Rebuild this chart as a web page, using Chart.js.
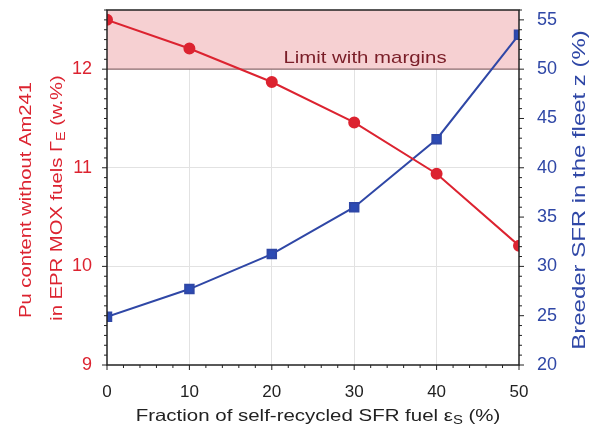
<!DOCTYPE html>
<html>
<head>
<meta charset="utf-8">
<script src="https://cdn.jsdelivr.net/npm/chart.js@4/dist/chart.umd.min.js"></script>
<style>
  html, body { margin: 0; padding: 0; background: #fff; }
  #wrap { width: 595px; height: 430px; }
</style>
</head>
<body>
<div id="wrap"><canvas id="chart" width="595" height="430"></canvas></div>
<script>
// data
const recycledFraction = [0, 10, 20, 30, 40, 50];
const puContent = [12.50, 12.21, 11.87, 11.46, 10.94, 10.21];
const breederShare = [24.9, 27.7, 31.25, 36.0, 42.9, 53.5];

const xTicks = [0, 10, 20, 30, 40, 50];
const leftTicks = [9, 10, 11, 12];
const rightTicks = [20, 25, 30, 35, 40, 45, 50, 55];
const limitValue = 12;
const limitLabel = 'Limit with margins';

const RED = '#dc2330';
const BLUE = '#2f47a6';
const FONT = '"Liberation Sans", Arial, sans-serif';

// draws text pieces (some as subscripts) centred on (0,0), stretched along the text
function drawRich(ctx, parts, size, stretch) {
    const measure = p => {
        ctx.font = (p.sub ? Math.round(size * 0.7) : size) + 'px ' + FONT;
        return ctx.measureText(p.t).width;
    };
    const total = parts.reduce((s, p) => s + measure(p), 0);
    ctx.save();
    ctx.scale(stretch || 1, 1);
    let x = -total / 2;
    parts.forEach(p => {
        const w = measure(p);
        ctx.fillText(p.t, x, p.sub ? size * 0.3 : 0);
        x += w;
    });
    ctx.restore();
}

// pink "limit" band above 12 %
const bandPlugin = {
    id: 'band',
    beforeDatasetsDraw(chart) {
        const { ctx, chartArea: a, scales } = chart;
        const y12 = scales.y.getPixelForValue(limitValue);
        ctx.save();
        ctx.fillStyle = '#f6d0d2';
        ctx.fillRect(a.left, a.top, a.right - a.left, y12 - a.top);
        ctx.strokeStyle = '#8a6a6c';
        ctx.lineWidth = 1.2;
        ctx.beginPath();
        ctx.moveTo(a.left, y12);
        ctx.lineTo(a.right, y12);
        ctx.stroke();
        ctx.fillStyle = '#7a1e28';
        ctx.textBaseline = 'middle';
        ctx.translate(365, y12 - 11);
        drawRich(ctx, [{ t: limitLabel }], 17, 1.2);
        ctx.restore();
    }
};

// frame, minor ticks and axis titles
const decorPlugin = {
    id: 'decor',
    afterDraw(chart) {
        const { ctx, chartArea: a, scales } = chart;
        ctx.save();
        ctx.strokeStyle = '#222';
        ctx.lineWidth = 1.5;
        ctx.strokeRect(a.left, a.top, a.right - a.left, a.bottom - a.top);

        ctx.lineWidth = 1;
        ctx.beginPath();
        // x ticks, minor every 2
        for (let v = 0; v <= 50; v += 2) {
            const px = scales.x.getPixelForValue(v);
            const len = v % 10 === 0 ? 5 : 3;
            ctx.moveTo(px, a.bottom);
            ctx.lineTo(px, a.bottom + len);
        }
        // left ticks, minor every 0.1
        for (let i = 90; i <= 126; i++) {
            const py = scales.y.getPixelForValue(i / 10);
            const len = i % 10 === 0 ? 5 : 3;
            ctx.moveTo(a.left, py);
            ctx.lineTo(a.left - len, py);
        }
        // right ticks, minor every 1
        for (let v = 20; v <= 56; v++) {
            const py = scales.y2.getPixelForValue(v);
            const len = v % 5 === 0 ? 5 : 3;
            ctx.moveTo(a.right, py);
            ctx.lineTo(a.right + len, py);
        }
        ctx.stroke();

        ctx.textBaseline = 'middle';
        // x title
        ctx.fillStyle = '#222';
        ctx.save();
        ctx.translate(318, 416);
        drawRich(ctx, [
            { t: 'Fraction of self-recycled SFR fuel \u03b5' },
            { t: 'S', sub: true },
            { t: ' (%)' }
        ], 16.5, 1.24);
        ctx.restore();

        // left title (two lines)
        ctx.fillStyle = RED;
        ctx.save();
        ctx.translate(26, 200);
        ctx.rotate(-Math.PI / 2);
        drawRich(ctx, [{ t: 'Pu content without Am241' }], 17, 1.19);
        ctx.restore();
        ctx.save();
        ctx.translate(57, 198);
        ctx.rotate(-Math.PI / 2);
        drawRich(ctx, [
            { t: 'in EPR MOX fuels \u0393' },
            { t: 'E', sub: true },
            { t: ' (w.%)' }
        ], 17, 1.19);
        ctx.restore();

        // right title
        ctx.fillStyle = BLUE;
        ctx.save();
        ctx.translate(580, 190);
        ctx.rotate(-Math.PI / 2);
        drawRich(ctx, [{ t: 'Breeder SFR in the fleet z (%)' }], 18, 1.33);
        ctx.restore();

        ctx.restore();
    }
};

const ctx = document.getElementById('chart').getContext('2d');
new Chart(ctx, {
    type: 'line',
    data: {
        labels: recycledFraction,
        datasets: [{
            label: 'Pu content',
            data: recycledFraction.map((x, i) => ({ x: x, y: puContent[i] })),
            yAxisID: 'y',
            borderColor: RED,
            backgroundColor: RED,
            borderWidth: 2,
            pointStyle: 'circle',
            pointRadius: 5,
            tension: 0
        }, {
            label: 'Breeder SFR',
            data: recycledFraction.map((x, i) => ({ x: x, y: breederShare[i] })),
            yAxisID: 'y2',
            borderColor: BLUE,
            backgroundColor: '#2c4bb4',
            borderWidth: 2,
            pointStyle: 'rect',
            pointRadius: 6,
            tension: 0
        }]
    },
    options: {
        responsive: false,
        animation: false,
        layout: { padding: { top: 10, left: 0, right: 0, bottom: 0 } },
        plugins: {
            legend: { display: false },
            tooltip: { enabled: false }
        },
        scales: {
            x: {
                type: 'linear',
                min: 0,
                max: 50,
                afterBuildTicks: s => { s.ticks = xTicks.map(v => ({ value: v })); },
                afterFit: s => { s.height = 65; s.paddingLeft = 0; s.paddingRight = 0; },
                grid: {
                    drawTicks: false,
                    color: c => (c.tick.value === 0 || c.tick.value === 50) ? 'rgba(0,0,0,0)' : '#e2e2e2'
                },
                border: { display: false },
                ticks: { color: '#222', padding: 17, font: { family: FONT, size: 17 } }
            },
            y: {
                position: 'left',
                min: 9,
                max: 12.6,
                afterBuildTicks: s => { s.ticks = leftTicks.map(v => ({ value: v })); },
                afterFit: s => { s.width = 107; s.paddingTop = 0; s.paddingBottom = 0; },
                grid: {
                    drawTicks: false,
                    color: c => (c.tick.value === 9 || c.tick.value === limitValue) ? 'rgba(0,0,0,0)' : '#e2e2e2'
                },
                border: { display: false },
                ticks: { color: RED, padding: 15, font: { family: FONT, size: 18 } }
            },
            y2: {
                position: 'right',
                min: 20,
                max: 56,
                afterBuildTicks: s => { s.ticks = rightTicks.map(v => ({ value: v })); },
                afterFit: s => { s.width = 76; s.paddingTop = 0; s.paddingBottom = 0; },
                grid: { display: false, drawTicks: false },
                border: { display: false },
                ticks: { color: BLUE, padding: 18, font: { family: FONT, size: 18 } }
            }
        }
    },
    plugins: [bandPlugin, decorPlugin]
});
</script>
</body>
</html>
